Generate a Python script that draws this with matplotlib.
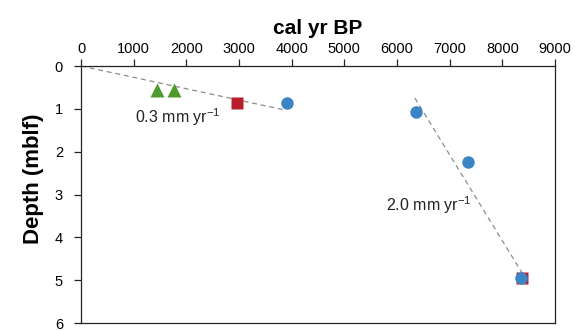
import matplotlib
matplotlib.use("Agg")
import matplotlib.pyplot as plt

# Data (cal yr BP, depth in mblf)
tri_age = [1440, 1760]
tri_depth = [0.56, 0.56]
sq_age = [2970, 8380]
sq_depth = [0.87, 4.96]
circ_age = [3910, 6357, 7355, 8355]
circ_depth = [0.87, 1.08, 2.24, 4.96]
line1_age = [0, 3880]
line1_depth = [0.0, 1.03]
line2_age = [6340, 8370]
line2_depth = [0.75, 4.82]
xticks = [0, 1000, 2000, 3000, 4000, 5000, 6000, 7000, 8000, 9000]
yticks = [0, 1, 2, 3, 4, 5, 6]

plt.rcParams['font.family'] = ['Liberation Sans', 'DejaVu Sans']

fig = plt.figure(figsize=(5.75, 3.3), dpi=100)
ax = fig.add_axes([0.1409, 0.0212, 0.8243, 0.7788])

ax.plot(line1_age, line1_depth, ls=(0, (4, 3)), color='#8c8c8c', lw=0.9, zorder=1)
ax.plot(line2_age, line2_depth, ls=(0, (4, 3)), color='#8c8c8c', lw=0.9, zorder=1)

ax.plot(tri_age, tri_depth, '^', color='#4f9a2d', ms=9.5, mec='none', zorder=3)
ax.plot(sq_age, sq_depth, 's', color='#b81d2a', ms=8.5, mec='none', zorder=2)
ax.plot(circ_age, circ_depth, 'o', color='#3a85c4', ms=9, mec='none', zorder=4)

ax.text(1030, 1.2, '0.3 mm yr$^{\\mathregular{-1}}$', fontsize=11.5, va='center', ha='left', color='#222222')
ax.text(5800, 3.25, '2.0 mm yr$^{\\mathregular{-1}}$', fontsize=11.5, va='center', ha='left', color='#222222')

ax.set_xlim(0, 9000)
ax.set_ylim(6, 0)
ax.set_xticks(xticks)
ax.set_yticks(yticks)
ax.xaxis.tick_top()
ax.xaxis.set_label_position('top')
ax.tick_params(axis='both', direction='out', length=5, width=0.9, labelsize=10.5, color='#222222')
ax.tick_params(axis='x', pad=2)
ax.tick_params(axis='y', pad=8)
for s in ax.spines.values():
    s.set_linewidth(0.9)
    s.set_color('#222222')

ax.set_xlabel('cal yr BP', fontsize=15, fontweight='bold', labelpad=6)
ax.set_ylabel('Depth (mblf)', fontsize=16, fontweight='bold')
ax.yaxis.set_label_coords(-0.079, 0.56)

fig.savefig('out.png', dpi=100)
